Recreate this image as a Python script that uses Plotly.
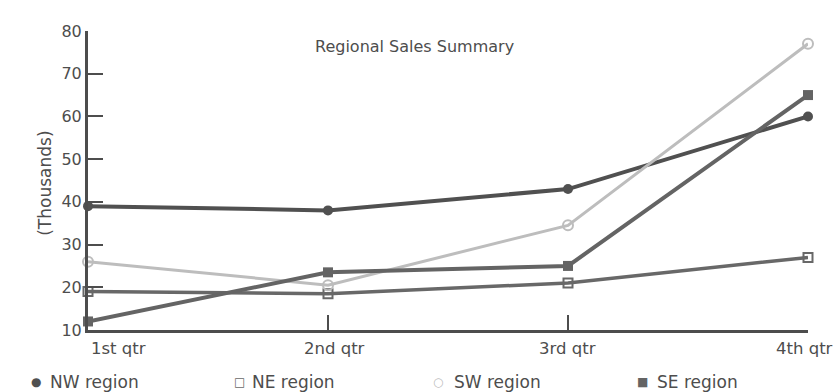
import plotly.graph_objects as go

quarters = ["1st qtr", "2nd qtr", "3rd qtr", "4th qtr"]
regions = ["NW region", "NE region", "SW region", "SE region"]
nw_sales = [39, 38, 43, 60]
ne_sales = [19, 18.5, 21, 27]
sw_sales = [26, 20.5, 34.5, 77]
se_sales = [12, 23.5, 25, 65]
y_ticks = [10, 20, 30, 40, 50, 60, 70, 80]

FONT = "DejaVu Sans, Liberation Sans, sans-serif"
INK = "#4d4d4d"

styles = [
    dict(line=dict(color="#505050", width=4),
         marker=dict(symbol="circle", size=10, color="#505050")),
    dict(line=dict(color="#686868", width=3.5),
         marker=dict(symbol="square-open", size=9, color="#686868", line=dict(width=2))),
    dict(line=dict(color="#bdbdbd", width=3),
         marker=dict(symbol="circle-open", size=10, color="#bdbdbd", line=dict(width=2))),
    dict(line=dict(color="#646464", width=4),
         marker=dict(symbol="square", size=10, color="#646464")),
]
series = [nw_sales, ne_sales, sw_sales, se_sales]
x_idx = list(range(len(quarters)))

fig = go.Figure()
for name, vals, st in zip(regions, series, styles):
    fig.add_trace(go.Scatter(x=x_idx, y=vals, name=name, mode="lines+markers",
                             cliponaxis=False, showlegend=False, **st))

annotations = []
# quarter labels under the axis
shifts = [30, 6, -1, -4]
for i, q in enumerate(quarters):
    annotations.append(dict(x=i, y=0, xref="x", yref="paper", text=q, showarrow=False,
                            yanchor="top", yshift=-7, xshift=shifts[i],
                            font=dict(family=FONT, size=16.5, color=INK)))
# chart title inside the plot area
annotations.append(dict(x=0.454, y=(330 - 47) / 299, xref="paper", yref="paper",
                        yanchor="middle", text="Regional Sales Summary", showarrow=False,
                        font=dict(family=FONT, size=16, color=INK)))
# vertical unit label
annotations.append(dict(x=-0.076, y=0.49, xref="paper", yref="paper",
                        text="(Thousands)", textangle=-90, showarrow=False,
                        font=dict(family=FONT, size=17, color=INK)))
# key row along the bottom: symbol then name
symbols = ["●", "□", "○", "■"]
sym_colors = ["#505050", "#686868", "#bdbdbd", "#646464"]
sym_x = [36, 239, 438, 642]
text_x = [48, 250, 452, 655]
key_y = (330 - 382) / 299
for sym, col, nm, sx, tx in zip(symbols, sym_colors, regions, sym_x, text_x):
    annotations.append(dict(x=(sx - 88) / 720, y=key_y, xref="paper", yref="paper",
                            xanchor="center", yanchor="middle", text=sym, showarrow=False,
                            font=dict(family=FONT, size=12, color=col)))
    annotations.append(dict(x=(tx - 88) / 720, y=key_y, xref="paper", yref="paper",
                            xanchor="left", yanchor="middle", text=nm, showarrow=False,
                            font=dict(family=FONT, size=17, color=INK)))

fig.update_layout(
    width=838, height=392,
    margin=dict(l=88, r=30, t=31, b=62),
    paper_bgcolor="white", plot_bgcolor="white",
    showlegend=False,
    annotations=annotations,
    xaxis=dict(range=[0, 3], tickvals=x_idx, showticklabels=False,
               ticks="inside", ticklen=15, tickwidth=2, tickcolor=INK,
               showline=True, linewidth=3, linecolor=INK, showgrid=False,
               zeroline=False),
    yaxis=dict(range=[10, 80], tickvals=y_ticks, ticks="inside", ticklen=15,
               tickwidth=2, tickcolor=INK, showline=True, linewidth=3,
               linecolor=INK, showgrid=False, zeroline=False,
               tickfont=dict(family=FONT, size=16, color=INK)),
)

fig.write_html("out.html")
